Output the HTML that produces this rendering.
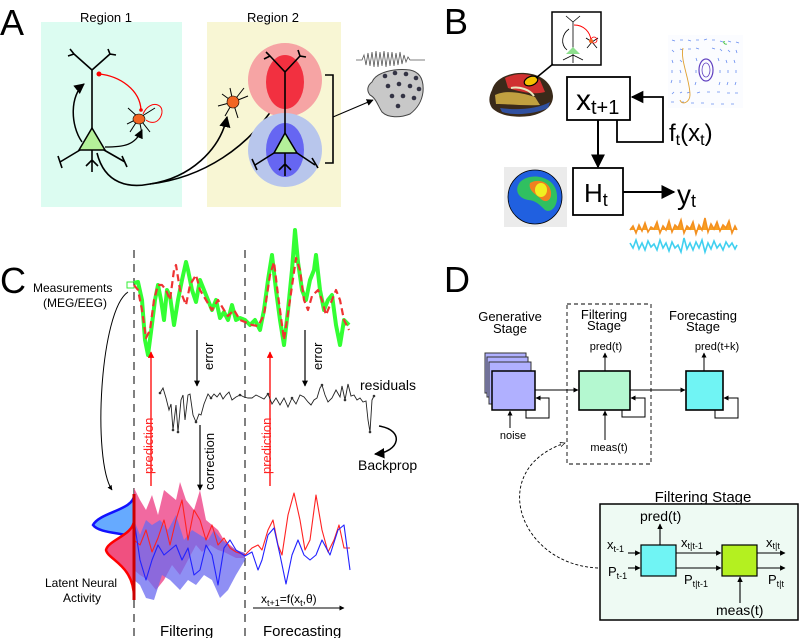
<!DOCTYPE html>
<html><head><meta charset="utf-8"><style>
html,body{margin:0;padding:0;background:#fff}
svg{display:block;font-family:"Liberation Sans",sans-serif}
</style></head><body>
<svg width="799" height="638" viewBox="0 0 799 638" xmlns="http://www.w3.org/2000/svg">
<defs>
<marker id="ah" viewBox="0 0 10 10" refX="9" refY="5" markerWidth="7" markerHeight="7" orient="auto-start-reverse"><path d="M0,0 L10,5 L0,10 z" fill="#000"/></marker>
<marker id="ahs" viewBox="0 0 10 10" refX="9" refY="5" markerWidth="5" markerHeight="5" orient="auto"><path d="M0,0 L10,5 L0,10 z" fill="#000"/></marker>
<marker id="ahr" viewBox="0 0 10 10" refX="9" refY="5" markerWidth="5" markerHeight="5" orient="auto"><path d="M0,0 L10,5 L0,10 z" fill="#f00"/></marker>
<marker id="aho" viewBox="0 0 10 10" refX="9" refY="5" markerWidth="6" markerHeight="6" orient="auto"><path d="M0,1 L9,5 L0,9 z" fill="#fff" stroke="#000" stroke-width="1.2"/></marker>
</defs>

<!-- PANEL A -->
<text x="0" y="35" font-size="36">A</text>
<rect x="41" y="22" width="141" height="185" fill="#dcfcf1"/>
<rect x="207" y="22" width="134" height="185" fill="#f8f6d4"/>
<text x="106" y="22" font-size="13" text-anchor="middle">Region 1</text>
<text x="273" y="22" font-size="13" text-anchor="middle">Region 2</text>
<g stroke="#000" stroke-width="1.6" fill="none">
<path d="M92,130 V70 L74,54 M92,70 L110,54 M70,49 L74,54 L68,56 M108,49 L110,54 L116,55"/>
<path d="M80,150 L60,162 M104,150 L125,162 M92,150 V172 M58,156 L62,168 M122,156 L127,167 M86,166 L92,160 L98,166"/>
</g>
<polygon points="79,150 105,150 92,128" fill="#b4f09a" stroke="#000" stroke-width="1.5"/>
<path d="M99,74 C120,76 140,90 141,110" stroke="#f00" stroke-width="1.3" fill="none"/>
<circle cx="99" cy="74" r="2.5" fill="#f00"/>
<circle cx="141" cy="110" r="1.8" fill="#f00"/>
<path d="M143,114 C150,98 168,104 160,118 C156,124 150,123 146,120" stroke="#f00" stroke-width="1" fill="none"/>
<g stroke="#000" stroke-width="1" fill="none">
<path d="M139,118 L128,108 M139,118 L127,124 M139,118 L130,132 M139,118 L150,132 M139,118 L155,108 M139,118 L142,134"/>
</g>
<ellipse cx="139" cy="119" rx="6" ry="5" fill="#f26522" stroke="#000" stroke-width=".6"/>
<path d="M82,142 C70,125 70,95 84,84" stroke="#000" stroke-width="1.5" fill="none" marker-end="url(#ah)"/>
<path d="M105,147 C125,147 135,145 142,130" stroke="#000" stroke-width="1.3" fill="none" marker-end="url(#ah)"/>
<path d="M97,153 C105,185 130,188 150,184 C190,178 220,150 227,117" stroke="#000" stroke-width="1.6" fill="none" marker-end="url(#ah)"/>
<path d="M150,184 C200,178 250,150 282,94" stroke="#000" stroke-width="1.6" fill="none" marker-end="url(#ah)"/>
<circle cx="285" cy="80" r="37" fill="#f6a4a4"/>
<ellipse cx="285" cy="82" rx="19" ry="27" fill="#f23040"/>
<circle cx="285" cy="150" r="37" fill="#b8c6ec"/>
<ellipse cx="285" cy="150" rx="19" ry="27" fill="#6666f2"/>
<g stroke="#000" stroke-width="1.6" fill="none">
<path d="M285,133 V72 L270,56 M285,72 L300,56 M266,52 L270,56 L264,59 M298,50 L300,56 L306,57"/>
<path d="M274,153 L255,165 M297,153 L315,165 M285,153 V176 M252,159 L257,170 M312,158 L318,168 M279,170 L285,164 L291,170"/>
<path d="M325,75 H333 V163 H325"/>
</g>
<line x1="333" y1="117" x2="373" y2="100" stroke="#000" stroke-width="1" marker-end="url(#ah)"/>
<polygon points="274,153 297,153 285,133" fill="#b4f09a" stroke="#000" stroke-width="1.5"/>
<g stroke="#000" stroke-width="1" fill="none">
<path d="M233,102 L222,94 M233,102 L218,106 M233,102 L225,116 M233,102 L238,118 M233,102 L248,96 M233,102 L244,88 M233,102 L230,88"/>
</g>
<ellipse cx="233" cy="102" rx="6" ry="6" fill="#f26522" stroke="#000" stroke-width=".6"/>
<path d="M372,82 C376,72 395,68 410,70 C420,72 424,80 423,92 C422,100 418,108 410,114 C400,118 388,118 382,112 C378,106 376,98 370,95 C366,90 368,85 372,82 Z" fill="#c8c8c8" stroke="#444" stroke-width="1"/>
<g fill="#334">
<circle cx="385" cy="76" r="2.3"/><circle cx="395" cy="73" r="2.3"/><circle cx="406" cy="74" r="2.3"/><circle cx="416" cy="78" r="2.3"/>
<circle cx="388" cy="86" r="2.3"/><circle cx="399" cy="84" r="2.3"/><circle cx="410" cy="86" r="2.3"/><circle cx="419" cy="89" r="2.3"/>
<circle cx="392" cy="96" r="2.3"/><circle cx="403" cy="96" r="2.3"/><circle cx="414" cy="98" r="2.3"/><circle cx="398" cy="106" r="2.3"/>
</g>
<polyline points="356,60 362,60 364,55 366,65 368,53 370,66 372,52 374,67 376,51 378,67 380,52 382,66 384,51 386,67 388,52 390,66 392,52 394,66 396,53 398,65 400,52 402,64 404,55 406,62 408,57 410,60 416,60 425,60" fill="none" stroke="#555" stroke-width=".8"/>

<!-- PANEL B -->
<text x="444" y="34" font-size="36">B</text>
<rect x="552" y="12" width="49" height="53" fill="#fff" stroke="#000" stroke-width="1.5"/>
<g stroke="#000" stroke-width=".8" fill="none">
<path d="M573,55 V22 L566,16 M573,22 L580,16 M573,55 L563,60 M573,55 L583,60 M573,55 V63"/>
<path d="M567,50 C560,44 562,34 569,29"/>
<path d="M592,42 L586,38 M592,42 L598,38 M592,42 L587,48 M592,42 L597,48"/>
</g>
<path d="M574,25 C584,25 590,32 591,40" stroke="#f00" stroke-width=".9" fill="none"/>
<circle cx="594" cy="40" r="3" fill="none" stroke="#f00" stroke-width=".8"/>
<circle cx="591" cy="41" r="2" fill="#f26522"/>
<polygon points="566,54 580,54 573,47" fill="#8ee08e"/>
<path d="M492,90 C495,78 510,72 525,73 C540,74 552,82 553,96 C553,106 545,113 530,116 C515,118 500,116 492,108 C488,102 489,96 492,90 Z" fill="#3a2a1a"/>
<path d="M505,78 C515,73 530,72 540,80 L545,92 C535,95 520,92 508,88 Z" fill="#d03030"/>
<path d="M495,95 C505,90 520,92 535,97 L540,105 C525,106 508,104 496,104 Z" fill="#c0a040"/>
<path d="M500,108 C515,110 535,110 550,102 L548,108 C535,114 515,116 502,112 Z" fill="#3050a0"/>
<path d="M511,88 C520,86 530,90 534,96" stroke="#e8e8c0" stroke-width="2" fill="none"/>
<ellipse cx="531" cy="81" rx="7" ry="4.5" fill="#f5c000" stroke="#000" stroke-width="1.2" transform="rotate(-20 531 81)"/>
<line x1="536" y1="78" x2="553" y2="64" stroke="#000" stroke-width="1.5"/>
<rect x="668" y="35" width="75" height="73" fill="#fbfcff"/>
<g stroke="#6a8ef0" stroke-width=".8">
<path d="M672,40 l3,1 M680,40 l3,0 M688,40 l3,1 M696,40 l3,0 M704,40 l3,-1 M712,40 l3,0 M720,41 l3,1 M728,41 l3,1 M736,42 l3,1
M672,50 l2,2 M680,49 l3,1 M688,49 l3,0 M696,48 l3,1 M712,48 l3,1 M720,49 l2,2 M728,50 l2,2 M736,50 l1,3
M672,60 l1,3 M680,60 l2,2 M696,58 l1,3 M718,58 l1,3 M726,60 l1,3 M734,60 l1,3
M672,70 l0,3 M680,70 l1,3 M696,70 l0,3 M720,70 l0,3 M728,70 l0,3 M736,70 l0,3
M672,80 l-1,3 M680,80 l0,3 M696,82 l-1,3 M720,82 l-1,3 M728,82 l-1,3 M736,82 l-1,3
M674,92 l-2,2 M682,92 l-2,1 M690,92 l-3,1 M700,92 l-3,1 M710,92 l-3,0 M720,92 l-3,0 M730,93 l-3,0 M738,93 l-3,0
M674,102 l-3,0 M684,102 l-3,0 M694,103 l-3,0 M704,103 l-3,0 M714,104 l-3,0 M724,104 l-3,0 M734,104 l-3,0"/>
</g>
<ellipse cx="706" cy="70" rx="7" ry="11" fill="none" stroke="#6040c0" stroke-width="1.2"/>
<ellipse cx="706" cy="70" rx="4" ry="7" fill="none" stroke="#6040c0" stroke-width=".8"/>
<path d="M683,48 C680,60 690,80 690,95 C690,102 682,106 680,100" fill="none" stroke="#e0a030" stroke-width=".9"/>
<path d="M725,42 C722,40 724,45 727,44" fill="none" stroke="#40c040" stroke-width=".8"/>
<rect x="567" y="77" width="63" height="43" fill="#fff" stroke="#000" stroke-width="1.8"/>
<text x="576" y="110" font-size="30">x<tspan font-size="20" dy="4">t+1</tspan></text>
<path d="M617,120 V142 H663 V97 H632" fill="none" stroke="#000" stroke-width="1.8" marker-end="url(#ah)"/>
<text x="669" y="141" font-size="24">f<tspan font-size="16" dy="4">t</tspan><tspan dy="-4">(x</tspan><tspan font-size="16" dy="4">t</tspan><tspan dy="-4">)</tspan></text>
<line x1="598" y1="120" x2="598" y2="167" stroke="#000" stroke-width="2" marker-end="url(#ah)"/>
<rect x="573" y="168" width="50" height="47" fill="#fff" stroke="#000" stroke-width="1.8"/>
<text x="584" y="202" font-size="26">H<tspan font-size="18" dy="4">t</tspan></text>
<line x1="623" y1="192" x2="674" y2="192" stroke="#000" stroke-width="2" marker-end="url(#ah)"/>
<text x="677" y="204" font-size="28">y<tspan font-size="18" dy="3">t</tspan></text>
<rect x="504" y="167" width="63" height="60" fill="#ebebeb"/>
<circle cx="535" cy="197" r="27" fill="#2060e0" stroke="#000" stroke-width=".8"/>
<path d="M520,182 C530,172 552,176 556,190 C560,204 552,214 545,210 C540,205 535,200 528,200 C518,198 514,190 520,182 Z" fill="#30c060"/>
<path d="M530,183 C538,178 550,182 551,192 C552,201 545,204 540,198 C535,194 528,190 530,183 Z" fill="#f08020"/>
<ellipse cx="541" cy="190" rx="6" ry="7" fill="#f0f020"/>
<polyline points="630,230 633,226 636,233 639,225 642,231 645,223 648,232 651,227 654,229 657,222 660,233 663,226 666,230 669,221 672,232 675,225 678,228 681,220 684,233 687,226 690,229 693,222 696,234 699,225 702,230 705,218 708,232 711,224 714,229 717,222 720,231 723,225 726,228 729,221 732,233 735,226 737,230" fill="#f9a020" stroke="#f39020" stroke-width="1.6"/>
<polyline points="630,243 633,248 636,240 639,249 642,243 645,250 648,241 651,247 654,244 657,250 660,240 663,248 666,243 669,251 672,242 675,248 678,245 681,252 684,238 687,249 690,243 693,250 696,242 699,248 702,240 705,252 708,243 711,249 714,241 717,248 720,244 723,250 726,242 729,247 732,243 735,249 737,245" fill="none" stroke="#40d0f0" stroke-width="1.6"/>

<!-- PANEL C -->
<text x="0" y="293" font-size="36">C</text>
<text x="33" y="292" font-size="12">Measurements</text>
<text x="43" y="307" font-size="12">(MEG/EEG)</text>
<rect x="127" y="282" width="7" height="6" fill="none" stroke="#3e3" stroke-width="1"/>
<path d="M128,292 C100,310 92,460 112,490" stroke="#000" stroke-width="1" fill="none" marker-end="url(#ahs)"/>
<line x1="134" y1="250" x2="134" y2="638" stroke="#000" stroke-dasharray="8,6" stroke-width="1"/>
<line x1="245" y1="250" x2="245" y2="638" stroke="#000" stroke-dasharray="8,6" stroke-width="1"/>
<polyline points="134,283 138,282 142,300 145,340 148,355 151,332 155,300 158,285 161,300 164,320 167,290 170,296 174,325 178,300 182,280 186,262 188,270 192,290 196,302 200,280 204,290 208,300 212,310 216,300 220,318 224,312 228,320 232,305 236,320 240,318 245,320 250,325 255,320 260,330 264,310 268,280 272,255 276,290 280,320 284,345 288,310 292,270 295,230 298,262 302,290 306,300 310,280 314,270 316,255 320,290 324,310 328,300 332,295 336,325 340,345 344,320 349,325" fill="none" stroke="#3f3" stroke-width="4" stroke-linejoin="round"/>
<polyline points="134,285 138,290 142,310 146,338 150,330 154,300 158,285 162,285 166,290 170,300 174,270 176,265 180,290 186,305 190,285 196,275 200,290 206,300 212,310 218,300 224,310 228,316 234,310 240,320 245,322 252,325 258,326 264,315 270,275 274,262 278,295 284,340 290,300 296,258 300,270 304,300 308,310 312,296 318,290 322,300 326,315 330,305 336,290 340,300 344,320 349,330" fill="none" stroke="#e33" stroke-width="2.2" stroke-dasharray="7,4" stroke-linejoin="round"/>
<line x1="197" y1="330" x2="197" y2="386" stroke="#000" stroke-width="1.2" marker-end="url(#ahs)"/>
<text transform="translate(213,370) rotate(-90)" font-size="13">error</text>
<line x1="305" y1="330" x2="305" y2="386" stroke="#000" stroke-width="1.2" marker-end="url(#ahs)"/>
<text transform="translate(322,370) rotate(-90)" font-size="13">error</text>
<line x1="151" y1="486" x2="151" y2="352" stroke="#f00" stroke-width="1.3" marker-end="url(#ahr)"/>
<text transform="translate(153,474) rotate(-90)" font-size="13" fill="#f22">prediction</text>
<line x1="270" y1="486" x2="270" y2="352" stroke="#f00" stroke-width="1.3" marker-end="url(#ahr)"/>
<text transform="translate(271,474) rotate(-90)" font-size="13" fill="#f22">prediction</text>
<line x1="200" y1="425" x2="200" y2="490" stroke="#000" stroke-width="1.2" marker-end="url(#ahs)"/>
<text transform="translate(214,490) rotate(-90)" font-size="13">correction</text>
<polyline points="160,393 163,388 166,398 169,410 171,404 173,430 176,405 178,432 181,400 183,395 185,420 188,395 190,394 193,415 196,422 199,414 201,415 204,404 208,394 211,398 214,394 217,397 220,393 223,399 226,395 229,392 232,400 236,397 240,395 244,397 248,398 252,398 256,395 260,397 264,399 268,394 272,404 276,398 280,405 284,398 288,407 292,398 296,404 300,395 304,397 308,402 311,405 314,400 317,398 320,388 322,385 325,395 328,402 332,398 336,390 340,397 342,386 345,400 348,384 351,396 354,395 357,400 360,398 363,402 366,401 368,420 370,432 372,400 374,396" fill="none" stroke="#222" stroke-width=".9"/>
<g fill="#333"><circle cx="173" cy="430" r="1.3"/><circle cx="178" cy="432" r="1.3"/><circle cx="196" cy="422" r="1.3"/><circle cx="211" cy="398" r="1.3"/><circle cx="240" cy="395" r="1.3"/><circle cx="268" cy="394" r="1.3"/><circle cx="292" cy="398" r="1.3"/><circle cx="322" cy="385" r="1.3"/><circle cx="345" cy="400" r="1.3"/><circle cx="370" cy="432" r="1.3"/><circle cx="160" cy="393" r="1.3"/><circle cx="374" cy="396" r="1.3"/></g>
<text x="360" y="390" font-size="14">residuals</text>
<path d="M379,426 C405,430 400,452 375,454" stroke="#000" stroke-width="1.5" fill="none" marker-end="url(#ah)"/>
<text x="358" y="470" font-size="14">Backprop</text>
<polygon points="134,488 140,500 146,510 152,495 158,515 164,490 170,495 176,500 180,482 186,500 194,510 200,490 206,520 212,525 218,530 224,540 230,545 236,550 245,553 245,558 236,558 230,555 224,552 218,550 210,545 202,552 196,545 188,560 180,575 172,565 164,580 156,590 148,580 140,575 134,570" fill="#ee4488" opacity=".8"/>
<polygon points="134,520 140,535 146,520 152,525 160,520 168,530 176,515 184,540 192,530 200,535 208,540 214,530 220,538 228,545 236,550 245,553 245,560 236,575 228,590 220,598 212,580 204,575 196,585 188,580 180,590 170,580 162,575 154,600 146,598 140,585 134,580" fill="#6a6af0" opacity=".75"/>
<polyline points="134,540 140,545 146,530 152,552 158,538 164,520 170,545 176,520 182,500 188,540 194,510 200,520 206,540 212,525 218,545 224,538 230,548 236,552 245,555 252,548 258,545 262,550 268,530 273,520 278,545 282,555 288,515 294,493 300,520 305,550 310,540 316,495 322,530 328,552 334,540 339,525 344,548 350,548" fill="none" stroke="#f22" stroke-width="1.1" stroke-linejoin="round"/>
<polyline points="134,520 140,560 146,580 152,560 158,545 164,555 170,550 176,545 182,560 188,548 194,575 200,570 206,545 212,555 218,585 224,548 230,540 236,550 245,556 252,552 258,570 262,560 268,535 274,528 280,555 286,584 292,555 298,540 304,555 310,560 316,555 322,540 330,555 338,530 344,525 350,570" fill="none" stroke="#22f" stroke-width="1.1" stroke-linejoin="round"/>
<path d="M134,495 C134,510 100,512 93,525 C100,535 134,532 134,540 Z" fill="#66aaff" stroke="#11f" stroke-width="2.5"/>
<path d="M134,520 C134,535 108,540 106,550 C108,560 134,565 134,598 Z" fill="#f05080" stroke="#f00" stroke-width="2.5"/>
<line x1="134" y1="494" x2="134" y2="600" stroke="#c00" stroke-width="3"/>
<text x="45" y="587" font-size="12">Latent Neural</text>
<text x="63" y="602" font-size="12">Activity</text>
<text x="261" y="603" font-size="12">x<tspan font-size="9" dy="3">t+1</tspan><tspan dy="-3">=f(x</tspan><tspan font-size="9" dy="3">t</tspan><tspan dy="-3">,θ)</tspan></text>
<line x1="253" y1="608" x2="344" y2="608" stroke="#000" stroke-width="1" marker-end="url(#ahs)"/>
<text x="160" y="636" font-size="15">Filtering</text>
<text x="263" y="636" font-size="15">Forecasting</text>

<!-- PANEL D -->
<text x="444" y="292" font-size="36">D</text>
<text x="510" y="321" font-size="13" text-anchor="middle">Generative</text>
<text x="510" y="333" font-size="13" text-anchor="middle">Stage</text>
<text x="604" y="319" font-size="13" text-anchor="middle">Filtering</text>
<text x="604" y="330" font-size="13" text-anchor="middle">Stage</text>
<text x="703" y="320" font-size="13" text-anchor="middle">Forecasting</text>
<text x="703" y="331" font-size="13" text-anchor="middle">Stage</text>
<rect x="567" y="304" width="84" height="160" fill="none" stroke="#000" stroke-dasharray="4,3" stroke-width=".9"/>
<g stroke="#333" stroke-width="1" fill="#b0b0ff">
<rect x="485" y="353" width="41" height="40"/>
<rect x="487" y="357" width="41" height="40"/>
<rect x="489" y="362" width="42" height="42"/>
<rect x="492" y="371" width="43" height="39" stroke="#000" stroke-width="1.5"/>
</g>
<rect x="579" y="371" width="51" height="39" fill="#b4f8d0" stroke="#000" stroke-width="1.6"/>
<rect x="686" y="371" width="37" height="39" fill="#70f4f4" stroke="#000" stroke-width="1.6"/>
<g stroke="#000" stroke-width="1" fill="none">
<line x1="535" y1="390" x2="578" y2="390" marker-end="url(#ahs)"/>
<line x1="630" y1="390" x2="685" y2="390" marker-end="url(#ahs)"/>
<path d="M526,410 V418 H549 V398 H536" marker-end="url(#ahs)"/>
<path d="M622,410 V417 H645 V398 H631" marker-end="url(#ahs)"/>
<path d="M715,410 V418 H738 V398 H724" marker-end="url(#ahs)"/>
<line x1="605" y1="371" x2="605" y2="353" marker-end="url(#ahs)"/>
<line x1="704" y1="371" x2="704" y2="353" marker-end="url(#ahs)"/>
<line x1="605" y1="440" x2="605" y2="411" marker-end="url(#ahs)"/>
<line x1="510" y1="428" x2="510" y2="411" marker-end="url(#ahs)"/>
</g>
<text x="606" y="350" font-size="11" text-anchor="middle">pred(t)</text>
<text x="717" y="350" font-size="11" text-anchor="middle">pred(t+k)</text>
<text x="513" y="439" font-size="11" text-anchor="middle">noise</text>
<text x="609" y="451" font-size="11" text-anchor="middle">meas(t)</text>
<path d="M598,568 C520,565 485,470 565,443" fill="none" stroke="#000" stroke-width=".9" stroke-dasharray="3,2" marker-end="url(#aho)"/>
<text x="703" y="502" font-size="15" text-anchor="middle">Filtering Stage</text>
<rect x="600" y="504" width="198" height="116" fill="#eefaf3" stroke="#000" stroke-width="1.5"/>
<rect x="641" y="545" width="35" height="31" fill="#70f4f4" stroke="#000" stroke-width="1.2"/>
<rect x="722" y="545" width="35" height="31" fill="#b4f020" stroke="#000" stroke-width="1.2"/>
<text x="640" y="521" font-size="14">pred(t)</text>
<g stroke="#000" stroke-width="1.1" fill="none">
<line x1="660" y1="545" x2="660" y2="524" marker-end="url(#ahs)"/>
<line x1="628" y1="553" x2="640" y2="553" marker-end="url(#ahs)"/>
<line x1="628" y1="568" x2="640" y2="568" marker-end="url(#ahs)"/>
<line x1="676" y1="553" x2="721" y2="553" marker-end="url(#ahs)"/>
<line x1="676" y1="568" x2="721" y2="568" marker-end="url(#ahs)"/>
<line x1="757" y1="553" x2="785" y2="553" marker-end="url(#ahs)"/>
<line x1="757" y1="568" x2="785" y2="568" marker-end="url(#ahs)"/>
<line x1="740" y1="603" x2="740" y2="577" marker-end="url(#ahs)"/>
</g>
<text x="607" y="549" font-size="13">x<tspan font-size="9" dy="3">t-1</tspan></text>
<text x="608" y="576" font-size="13">P<tspan font-size="9" dy="3">t-1</tspan></text>
<text x="681" y="547" font-size="13">x<tspan font-size="9" dy="2">t|t-1</tspan></text>
<text x="684" y="584" font-size="13">P<tspan font-size="9" dy="3">t|t-1</tspan></text>
<text x="766" y="547" font-size="13">x<tspan font-size="9" dy="2">t|t</tspan></text>
<text x="768" y="584" font-size="13">P<tspan font-size="9" dy="3">t|t</tspan></text>
<text x="716" y="615" font-size="14">meas(t)</text>
</svg>
</body></html>
